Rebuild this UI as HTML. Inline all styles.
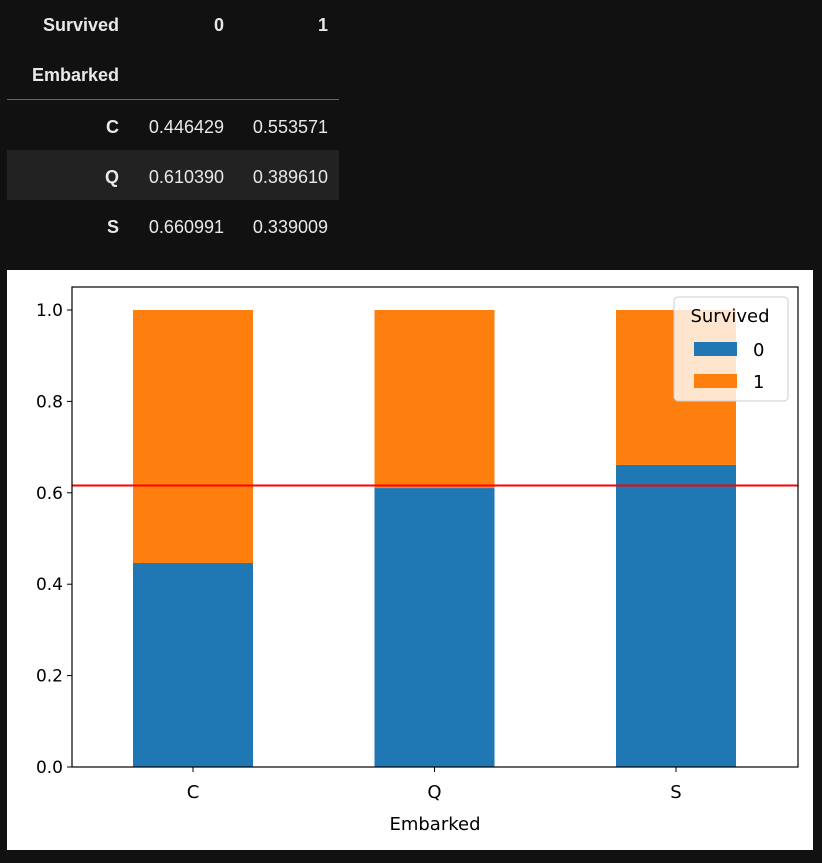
<!DOCTYPE html>
<html><head><meta charset="utf-8"><style>
body{margin:0;background:#111;width:822px;height:863px;overflow:hidden;font-family:"Liberation Sans","DejaVu Sans",sans-serif;}
.t{position:absolute;color:#e8e8e8;font-size:18px;text-align:right;line-height:20px}
.b{font-weight:bold}
</style></head><body>
<div>
<div style="position:absolute;left:7px;top:150px;width:332px;height:50px;background:#222"></div>
<div style="position:absolute;left:7px;top:99px;width:332px;height:1px;background:#666"></div>
<div class="t b" style="left:0;width:119px;top:15px">Survived</div>
<div class="t b" style="left:130px;width:94px;top:15px">0</div>
<div class="t b" style="left:234px;width:94px;top:15px">1</div>
<div class="t b" style="left:0;width:119px;top:65px">Embarked</div>
<div class="t b" style="left:0;width:119px;top:117px">C</div>
<div class="t" style="left:130px;width:94px;top:117px">0.446429</div>
<div class="t" style="left:234px;width:94px;top:117px">0.553571</div>
<div class="t b" style="left:0;width:119px;top:167px">Q</div>
<div class="t" style="left:130px;width:94px;top:167px">0.610390</div>
<div class="t" style="left:234px;width:94px;top:167px">0.389610</div>
<div class="t b" style="left:0;width:119px;top:217px">S</div>
<div class="t" style="left:130px;width:94px;top:217px">0.660991</div>
<div class="t" style="left:234px;width:94px;top:217px">0.339009</div>
</div>
<svg id="chart" style="position:absolute;left:0;top:0" width="822" height="863" font-family="DejaVu Sans, Liberation Sans, sans-serif">
<rect x="7" y="270" width="806" height="580" fill="#fff"/>
<g id="marks"></g>
</svg>
<script>
const categories=["C","Q","S"];
const survived0=[0.446429,0.610390,0.660991];
const survived1=[0.553571,0.389610,0.339009];
const yTicks=[0,0.2,0.4,0.6,0.8,1.0];
const yTickLabels=["0.0","0.2","0.4","0.6","0.8","1.0"];
const refLine=0.616;
const L=72,R=798,B=767,T=287;
const y=v=>B-v*457;
const x=i=>193+i*241.5;
const bw=120;
const g=document.getElementById('marks');
const NS="http://www.w3.org/2000/svg";
function mk(tag,attrs){const e=document.createElementNS(NS,tag);for(const k in attrs)e.setAttribute(k,attrs[k]);g.appendChild(e);return e;}
categories.forEach((c,i)=>{
 let r=mk('rect',{x:x(i)-bw/2,y:y(survived0[i]),width:bw,height:B-y(survived0[i]),fill:'#1f77b4'});
 
 
 let r2=mk('rect',{x:x(i)-bw/2,y:y(survived0[i]+survived1[i]),width:bw,height:y(survived0[i])-y(survived0[i]+survived1[i]),fill:'#ff7f0e'});
 
 
 let tk=mk('line',{x1:x(i),x2:x(i),y1:B,y2:B+5,stroke:'#000','stroke-width':1});
 
 
 let t=mk('text',{x:x(i),y:B+31,'text-anchor':'middle','font-size':18});
 t.textContent=c;
 
 
});
yTicks.forEach((v,i)=>{
 let tk=mk('line',{x1:L-5,x2:L,y1:y(v),y2:y(v),stroke:'#000','stroke-width':1});
 
 
 let t=mk('text',{x:L-9,y:y(v)+6,'text-anchor':'end','font-size':17});
 t.textContent=yTickLabels[i];
 
 
});
let ln=mk('line',{x1:L,x2:R,y1:y(refLine),y2:y(refLine),stroke:'#ff0000','stroke-width':2});


let fr=mk('rect',{x:L,y:T,width:R-L,height:B-T,fill:'none',stroke:'#000','stroke-width':1.2});


let xt=mk('text',{x:(L+R)/2,y:830,'text-anchor':'middle','font-size':18});
xt.textContent='Embarked';


let lg=mk('rect',{x:674,y:297,width:114,height:104,rx:4,fill:'#fff','fill-opacity':0.8,stroke:'#ccc'});


let lt=mk('text',{x:730,y:322,'text-anchor':'middle','font-size':18});
lt.textContent='Survived';


[['0','#1f77b4',349],['1','#ff7f0e',381]].forEach(([lab,col,yy])=>{
 let s=mk('rect',{x:694,y:yy-7,width:43,height:14,fill:col});
 
 
 let t=mk('text',{x:753,y:yy+7,'font-size':18});
 t.textContent=lab;
 
 
});
</script>
</body></html>
